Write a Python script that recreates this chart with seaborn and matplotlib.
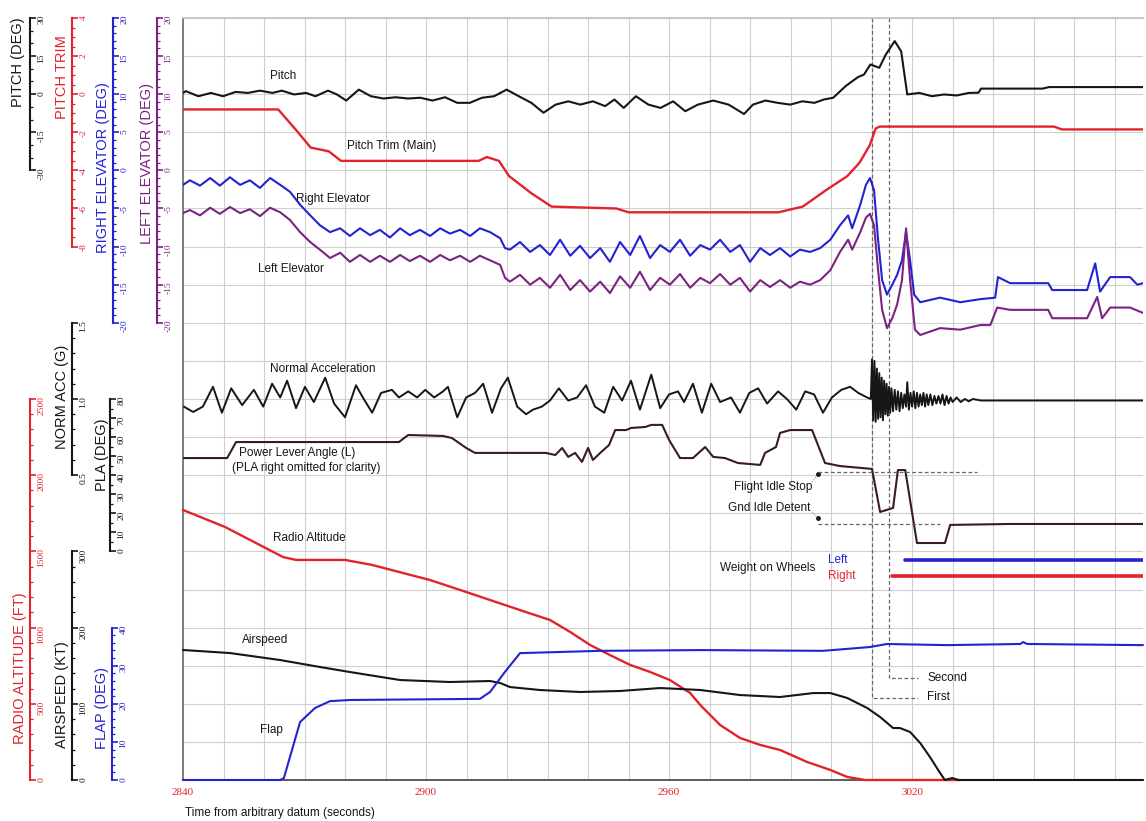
import numpy as np
import matplotlib
matplotlib.use("Agg")
import matplotlib.pyplot as plt
from matplotlib.ticker import FormatStrFormatter, MultipleLocator
import seaborn as sns

# ---- data (time in seconds from arbitrary datum) ----
pitch_t = [2840.0, 2840.7, 2843.8, 2846.9, 2849.9, 2853.0, 2856.0, 2859.0, 2862.1, 2864.4,
           2867.4, 2870.4, 2872.7, 2875.8, 2878.0, 2880.3, 2883.4, 2886.4, 2889.5, 2892.5,
           2895.6, 2898.6, 2901.6, 2904.7, 2907.7, 2910.8, 2913.8, 2916.8, 2919.9, 2922.9,
           2926.0, 2929.0, 2932.0, 2935.1, 2938.1, 2941.2, 2944.2, 2946.5, 2948.8, 2951.8,
           2954.9, 2957.9, 2961.0, 2964.0, 2967.1, 2970.9, 2974.7, 2978.5, 2980.7, 2983.8,
           2986.8, 2989.9, 2992.9, 2995.9, 2998.2, 3000.5, 3003.6, 3006.6, 3008.1, 3009.7,
           3011.9, 3013.5, 3015.7, 3017.3, 3018.8, 3021.8, 3024.9, 3027.9, 3031.0, 3034.0,
           3036.4, 3037.0, 3052.2, 3053.8, 3077.0]
pitch_deg = [0.5, 1.2, -0.8, 0.5, -0.8, 0.9, 0.5, 1.4, 0.5, 1.4,
             -0.1, 0.5, -0.8, 1.4, -0.1, -2.5, 1.8, -0.8, -1.7, -1.2,
             -1.7, -1.4, -2.5, -1.2, -3.4, -3.4, -1.4, -0.8, 1.8, -0.8,
             -3.4, -7.3, -4.1, -2.8, -4.1, -2.8, -4.7, -2.1, -5.4, -0.8,
             -4.1, -5.4, -2.8, -6.7, -4.1, -2.5, -4.1, -7.8, -4.1, -2.5,
             -3.4, -4.1, -2.8, -3.4, -2.1, -1.4, 3.2, 6.7, 7.7, 11.7,
             10.4, 15.6, 20.9, 16.9, -0.1, 0.5, -0.8, -0.1, -0.5, 0.5,
             0.6, 2.2, 2.2, 2.8, 2.8]

trim_t = [2840.0, 2863.5, 2868.0, 2871.5, 2876.0, 2879.0, 2913.0, 2915.0, 2918.0, 2920.5,
          2926.0, 2931.0, 2947.0, 2950.0, 2987.0, 2993.0, 2999.0, 3004.0, 3007.0, 3009.5,
          3011.0, 3012.0, 3055.0, 3057.0, 3077.0]
trim_deg = [-0.8, -0.8, -1.9, -2.8, -3.0, -3.5, -3.5, -3.3, -3.5, -4.3,
            -5.2, -5.9, -6.0, -6.2, -6.2, -5.9, -5.0, -4.3, -3.6, -2.7,
            -1.8, -1.7, -1.7, -1.85, -1.85]

elev_t = [2840.0, 2841.7, 2844.2, 2846.7, 2849.1, 2851.6, 2854.1, 2856.5, 2859.0, 2861.5,
          2864.0, 2866.4, 2868.9, 2871.4, 2873.8, 2876.3, 2878.8, 2881.2, 2883.7, 2886.2,
          2888.6, 2891.1, 2893.6, 2896.0, 2898.5, 2901.0, 2903.5, 2905.9, 2908.4, 2910.9,
          2913.3, 2915.8, 2918.3, 2919.5, 2920.7, 2923.2, 2925.7, 2928.1, 2930.6, 2933.1,
          2935.6, 2938.0, 2940.5, 2943.0, 2945.4, 2947.9, 2950.4, 2952.8, 2955.3, 2957.8,
          2960.2, 2962.7, 2965.2, 2967.7, 2970.1, 2972.6, 2975.1, 2977.5, 2980.0, 2982.5,
          2984.9, 2987.4, 2989.9, 2992.3, 2994.8, 2997.3, 2999.8, 3002.2, 3004.2, 3005.2,
          3007.2, 3008.6, 3009.6, 3010.6, 3011.6, 3012.6, 3013.8, 3015.1, 3016.3, 3017.5]
relev_t = elev_t + [3018.5, 3019.5, 3020.5, 3022.0, 3026.9, 3031.9, 3036.8, 3040.5, 3041.2, 3044.2,
                    3053.6, 3054.6, 3063.2, 3065.2, 3066.4, 3068.9, 3073.8, 3075.6, 3077.0]
relev_deg = [-1.9, -1.3, -2.0, -1.0, -2.0, -0.9, -1.9, -1.3, -2.3, -1.0,
             -1.9, -2.8, -4.5, -5.9, -7.2, -8.1, -7.6, -8.6, -7.6, -8.5,
             -7.8, -8.8, -7.6, -8.5, -7.8, -8.6, -7.6, -8.3, -7.8, -8.6,
             -7.6, -8.1, -8.9, -10.2, -10.4, -9.4, -10.7, -9.8, -11.1, -9.1,
             -11.2, -9.9, -11.5, -10.2, -12.0, -9.4, -11.1, -8.6, -11.5, -9.8,
             -10.7, -9.1, -11.2, -9.8, -10.4, -9.1, -10.7, -9.8, -12.0, -10.2,
             -11.1, -10.2, -11.3, -10.4, -10.7, -10.2, -9.1, -7.2, -5.9, -7.6,
             -4.5, -1.9, -1.0, -2.6, -9.1, -14.4, -16.3, -15.0, -13.7, -11.8,
             -8.1, -11.8, -16.3, -17.3, -16.7, -17.3, -16.9, -16.7, -14.0, -14.8,
             -14.8, -15.7, -15.7, -12.2, -15.9, -14.0, -14.0, -15.0, -14.8]
lelev_t = elev_t + [3018.5, 3019.5, 3020.7, 3022.0, 3026.9, 3031.9, 3036.8, 3039.3, 3041.0, 3044.2,
                    3053.6, 3054.6, 3063.2, 3065.7, 3066.9, 3068.9, 3073.8, 3077.0]
lelev_deg = [-5.6, -5.2, -5.9, -4.9, -5.7, -4.8, -5.6, -5.1, -6.0, -4.9,
             -5.5, -6.5, -8.1, -9.4, -10.4, -11.5, -10.8, -12.0, -11.1, -12.0,
             -11.2, -12.0, -11.1, -11.9, -11.2, -12.0, -11.1, -11.8, -11.2, -12.0,
             -11.2, -11.8, -12.4, -14.1, -14.6, -13.7, -15.0, -14.1, -15.4, -13.7,
             -15.7, -14.4, -15.9, -14.6, -16.1, -13.9, -15.4, -13.3, -15.7, -14.1,
             -15.0, -13.6, -15.4, -14.1, -14.8, -13.6, -15.0, -14.1, -15.9, -14.4,
             -15.3, -14.4, -15.4, -14.6, -15.0, -14.4, -13.1, -10.7, -9.1, -10.4,
             -8.1, -6.2, -5.7, -7.2, -13.1, -18.3, -20.7, -19.4, -17.6, -14.4,
             -7.6, -14.4, -20.9, -21.6, -20.7, -20.9, -20.3, -20.3, -18.0, -18.3,
             -18.3, -19.4, -19.4, -16.6, -19.4, -18.0, -18.0, -18.7]

nacc_t = [2840.2, 2842.5, 2844.9, 2847.4, 2849.6, 2851.9, 2854.6, 2857.5, 2859.8, 2862.0,
          2864.0, 2865.7, 2867.9, 2870.1, 2872.3, 2875.1, 2877.3, 2880.0, 2882.7, 2884.4,
          2886.7, 2888.9, 2891.6, 2893.3, 2895.6, 2897.8, 2899.8, 2902.0, 2904.2, 2905.4,
          2907.7, 2909.9, 2912.1, 2914.1, 2916.3, 2918.5, 2920.2, 2922.5, 2924.7, 2926.4,
          2928.6, 2930.6, 2932.8, 2935.1, 2937.3, 2939.5, 2941.7, 2944.0, 2946.2, 2948.4,
          2950.6, 2952.8, 2955.6, 2957.8, 2960.0, 2962.2, 2963.7, 2965.9, 2968.1, 2970.4,
          2972.6, 2975.3, 2977.5, 2979.8, 2982.0, 2984.2, 2986.9, 2989.1, 2991.4, 2993.6,
          2995.8, 2998.0, 3000.2, 3002.5, 3004.7, 3006.7, 3008.9, 3009.8, 3010.1, 3010.4,
          3010.7, 3011.0, 3011.3, 3011.6, 3011.9, 3012.2, 3012.5, 3012.8, 3013.1, 3013.4,
          3013.7, 3014.0, 3014.3, 3014.6, 3014.9, 3015.3, 3015.7, 3016.1, 3016.5, 3016.9,
          3017.3, 3017.7, 3018.1, 3018.5, 3018.8, 3019.2, 3019.6, 3020.0, 3020.4, 3020.8,
          3021.2, 3021.6, 3022.0, 3022.4, 3022.8, 3023.2, 3023.6, 3024.0, 3024.5, 3025.0,
          3025.5, 3026.0, 3026.5, 3027.0, 3027.5, 3028.0, 3028.5, 3029.0, 3029.5, 3030.0,
          3031.0, 3032.0, 3033.0, 3034.0, 3035.0, 3037.0, 3077.0]
nacc_g = [0.95, 0.915, 0.95, 1.08, 0.91, 1.07, 0.96, 1.06, 0.95, 1.10,
          1.01, 1.12, 0.94, 1.08, 0.98, 1.14, 0.97, 0.88, 1.09, 1.01,
          0.91, 1.04, 1.06, 1.01, 1.05, 1.01, 1.06, 1.01, 1.05, 1.08,
          0.88, 1.01, 1.04, 1.10, 0.91, 1.07, 1.14, 0.95, 0.90, 0.93,
          0.95, 0.99, 1.07, 0.99, 1.01, 1.09, 0.95, 0.91, 1.08, 0.99,
          1.12, 0.93, 1.16, 0.94, 1.03, 1.05, 0.98, 1.10, 0.91, 1.10,
          0.98, 1.01, 0.91, 1.04, 1.07, 0.97, 1.05, 1.00, 0.93, 1.05,
          1.03, 0.91, 1.01, 1.06, 1.08, 1.04, 1.01, 1.00, 1.26, 0.86,
          1.25, 0.85, 1.20, 0.87, 1.17, 0.88, 1.14, 0.86, 1.12, 0.90,
          1.10, 0.89, 1.08, 0.91, 1.07, 0.92, 1.06, 0.93, 1.05, 0.92,
          1.04, 0.94, 1.03, 0.95, 1.11, 0.93, 1.04, 0.95, 1.05, 0.94,
          1.04, 0.95, 1.03, 0.96, 1.04, 0.95, 1.03, 0.96, 1.03, 0.96,
          1.02, 0.97, 1.02, 0.97, 1.03, 0.96, 1.02, 0.97, 1.01, 0.98,
          1.01, 0.98, 1.00, 0.985, 1.00, 0.99, 0.99]

pla_t = [2840.0, 2850.9, 2853.1, 2893.3, 2895.6, 2904.2, 2906.4, 2909.9, 2912.1, 2929.6,
         2931.9, 2933.6, 2935.1, 2936.8, 2938.5, 2940.0, 2941.2, 2943.0, 2945.2, 2946.7,
         2949.4, 2950.6, 2954.1, 2955.6, 2958.3, 2960.0, 2962.7, 2965.9, 2968.9, 2970.9,
         2973.8, 2977.0, 2982.5, 2983.7, 2986.4, 2987.4, 2989.9, 2995.3, 2998.5, 3002.2,
         3010.1, 3012.1, 3015.3, 3016.5, 3018.3, 3021.2, 3028.1, 3029.4, 3044.2, 3077.0]
pla_deg = [49.0, 49.0, 57.4, 57.4, 61.1, 60.6, 59.5, 54.3, 51.7, 51.7,
           50.6, 54.3, 49.6, 51.7, 47.0, 54.3, 48.0, 51.7, 55.9, 63.7,
           63.7, 64.8, 65.3, 66.4, 66.4, 58.5, 49.0, 49.0, 54.8, 49.6,
           49.0, 46.4, 45.4, 51.7, 54.8, 62.2, 63.7, 63.7, 46.4, 44.8,
           43.3, 20.7, 22.8, 42.7, 42.7, 4.4, 4.4, 13.9, 14.4, 14.4]
flight_idle_stop = 41.7
gnd_idle_detent = 14.4

ralt_t = [2840.0, 2850.4, 2864.7, 2867.9, 2880.0, 2886.7, 2901.0, 2908.4, 2915.8, 2923.2,
          2930.6, 2935.6, 2940.5, 2945.4, 2950.4, 2955.3, 2960.2, 2965.2, 2967.7, 2972.6,
          2977.5, 2982.5, 2987.4, 2994.1, 2999.8, 3004.0, 3008.4, 3031.9]
ralt_ft = [1772, 1660, 1463, 1444, 1444, 1411, 1312, 1247, 1181, 1115,
           1050, 971, 886, 820, 755, 709, 656, 571, 492, 361,
           276, 230, 197, 118, 66, 20, 0, 0]

ias_t = [2840.0, 2851.6, 2864.0, 2873.8, 2881.2, 2893.6, 2905.9, 2915.8, 2918.3, 2920.7,
         2928.1, 2938.0, 2947.9, 2957.8, 2967.7, 2977.5, 2987.4, 2995.6, 2999.8, 3004.0,
         3008.9, 3012.1, 3015.3, 3017.0, 3019.5, 3022.0, 3024.4, 3026.9, 3028.1, 3029.9,
         3031.4, 3077.0]
ias_kt = [170.6, 166.6, 157.4, 148.3, 141.7, 131.2, 128.6, 129.9, 127.3, 122.0,
          118.1, 115.5, 116.8, 120.7, 118.1, 111.5, 108.9, 114.1, 114.1, 107.6,
          94.5, 82.7, 68.2, 68.2, 63.0, 48.5, 30.2, 9.2, 0.0, 2.6,
          0.0, 0.0]

flap_t = [2840.0, 2864.0, 2864.9, 2868.9, 2872.6, 2876.3, 2881.2, 2913.3, 2915.8, 2919.5,
          2923.2, 2943.0, 2967.7, 2998.0, 3009.6, 3013.8, 3028.6, 3046.7, 3047.4, 3048.4,
          3077.0]
flap_deg = [0.0, 0.0, 0.5, 15.2, 18.9, 20.7, 21.0, 21.3, 23.1, 28.4,
            33.3, 33.9, 34.1, 33.9, 34.9, 35.7, 35.4, 35.7, 36.2, 35.7,
            35.4]

touchdown_first = 3010.0
touchdown_second = 3014.2
wow_left_t = 3018.3
wow_right_t = 3015.1

x_ticks = [2840, 2900, 2960, 3020]

BLACK = "#161616"
RED = "#e2232b"
BLUE = "#2323d2"
PURPLE = "#7c2283"
GRID = "#cfcfcf"

sns.set_theme(style="white")
plt.rcParams['font.family'] = ['Liberation Sans', 'DejaVu Sans']

W, H = 1146, 821
L, R, T, B = 183, 1143, 18, 780
fig = plt.figure(figsize=(W / 100, H / 100), dpi=100)
ax = fig.add_axes([L / W, (H - B) / H, (R - L) / W, (B - T) / H])
ax.set_ylim(0, 20)
ax.set_yticks(np.arange(0, 21, 1))
ax.set_xticks(x_ticks)
ax.xaxis.set_minor_locator(MultipleLocator(10))
ax.grid(True, which="both", color=GRID, lw=0.8)
ax.tick_params(axis="x", which="both", length=0, pad=6, colors=RED, labelsize=8)
for lab in ax.get_xticklabels():
    lab.set_family("Liberation Serif")
ax.spines["right"].set_visible(False)
ax.spines["top"].set_color("#c4c4c4")
ax.spines["left"].set_color("#707070")
ax.spines["bottom"].set_color("#404040")
ax.spines["bottom"].set_linewidth(1.2)


def frac(px, py):
    return (px - L) / (R - L), (B - py) / (B - T)


def overlay(lo, hi, g_lo, g_hi):
    tw = ax.twinx()
    per = (hi - lo) / (g_hi - g_lo)
    tw.set_ylim(lo - g_lo * per, hi + (20 - g_hi) * per)
    tw.grid(False)
    for s in tw.spines.values():
        s.set_visible(False)
    tw.set_yticks([])
    return tw


def scale(tw, xpix, lo, hi, major, minor, color, fmt="%d"):
    sp = tw.spines["right"]
    sp.set_visible(True)
    sp.set_position(("axes", (xpix - L) / (R - L)))
    sp.set_bounds(lo, hi)
    sp.set_color(color)
    sp.set_linewidth(1.5)
    tw.yaxis.set_ticks_position("right")
    tw.set_yticks(np.arange(lo, hi + major / 2, major))
    tw.set_yticks(np.arange(lo, hi + minor / 2, minor), minor=True)
    tw.yaxis.set_major_formatter(FormatStrFormatter(fmt))
    tw.tick_params(axis="y", which="major", colors=color, length=4, width=1.2,
                   labelrotation=90, labelsize=6.8, pad=1.5)
    tw.tick_params(axis="y", which="minor", colors=color, length=2, width=0.9)
    for lab in tw.get_yticklabels():
        lab.set_family("Liberation Serif")


def trace(tw, t, v, color, lw=1.5, clip=True):
    sns.lineplot(x=t, y=v, ax=tw, color=color, linewidth=lw, legend=False,
                 estimator=None, sort=False, clip_on=clip)


def axis_title(px, py, text, color):
    fx, fy = frac(px, py)
    ax.text(fx, fy, text, transform=ax.transAxes, rotation=90, ha="center", va="center",
            color=color, fontsize=10.5, clip_on=False)


def note(px, py, text, color=BLACK, ha="left", size=8.5):
    fx, fy = frac(px, py)
    ax.text(fx, fy, text, transform=ax.transAxes, ha=ha, va="center", color=color,
            fontsize=size, clip_on=False)


# ---- traces on their own scales ----
ax_pitch = overlay(-30, 30, 16, 20)
trace(ax_pitch, pitch_t, pitch_deg, BLACK)
scale(ax_pitch, 30, -30, 30, 15, 5, BLACK)

ax_trim = overlay(-8, 4, 14, 20)
trace(ax_trim, trim_t, trim_deg, RED, lw=1.7)
scale(ax_trim, 72, -8, 4, 2, 0.5, RED)

ax_relev = overlay(-20, 20, 12, 20)
trace(ax_relev, relev_t, relev_deg, BLUE)
scale(ax_relev, 113, -20, 20, 5, 1, BLUE)

ax_lelev = overlay(-20, 20, 12, 20)
trace(ax_lelev, lelev_t, lelev_deg, PURPLE)
scale(ax_lelev, 157, -20, 20, 5, 1, PURPLE)

ax_nacc = overlay(0.5, 1.5, 8, 12)
trace(ax_nacc, nacc_t, nacc_g, BLACK, lw=1.4)
scale(ax_nacc, 72, 0.5, 1.5, 0.5, 0.1, BLACK, fmt="%.1f")

ax_pla = overlay(0, 80, 6, 10)
trace(ax_pla, pla_t, pla_deg, "#3a1a2a", lw=1.5)
scale(ax_pla, 110, 0, 80, 10, 5, BLACK)

ax_ralt = overlay(0, 2500, 0, 10)
trace(ax_ralt, ralt_t, ralt_ft, RED, lw=1.7, clip=False)
scale(ax_ralt, 30, 0, 2500, 500, 100, RED)

ax_ias = overlay(0, 300, 0, 6)
trace(ax_ias, ias_t, ias_kt, BLACK, lw=1.5, clip=False)
scale(ax_ias, 72, 0, 300, 100, 20, BLACK)

ax_flap = overlay(0, 40, 0, 4)
trace(ax_flap, flap_t, flap_deg, BLUE, lw=1.5, clip=False)
scale(ax_flap, 112, 0, 40, 10, 2, BLUE)

# twinx() puts ticks back on the base axes: remove them again
ax.tick_params(axis="y", which="both", left=False, right=False,
               labelleft=False, labelright=False)

# idle stop / detent references on the PLA scale
ax_pla.plot([2996.8, 3036.0], [flight_idle_stop] * 2, ls=(0, (3, 2)), color="#666666", lw=0.9)
ax_pla.plot([2996.8, 3026.9], [gnd_idle_detent] * 2, ls=(0, (3, 2)), color="#666666", lw=0.9)

# touchdown markers
xmax = 3077.0
g_first = (B - 698) / (B - T) * 20
g_second = (B - 678) / (B - T) * 20
ax.plot([touchdown_first, touchdown_first, 3021.5], [20, g_first, g_first],
        ls=(0, (3, 2)), color="#666666", lw=0.9)
ax.plot([touchdown_second, touchdown_second, 3021.5], [20, g_second, g_second],
        ls=(0, (3, 2)), color="#666666", lw=0.9)

# weight on wheels
ax.plot([wow_left_t, xmax], [(B - 560) / (B - T) * 20] * 2, color=BLUE, lw=2.6)
ax.plot([wow_right_t, xmax], [(B - 576) / (B - T) * 20] * 2, color=RED, lw=2.6)

ax.set_xlim(2840, xmax)

# ---- scale titles ----
axis_title(18, 62, "PITCH (DEG)", BLACK)
axis_title(62, 77, "PITCH TRIM", RED)
axis_title(103, 168, "RIGHT ELEVATOR (DEG)", BLUE)
axis_title(147, 163, "LEFT ELEVATOR (DEG)", PURPLE)
axis_title(62, 397, "NORM ACC (G)", BLACK)
axis_title(102, 455, "PLA (DEG)", BLACK)
axis_title(20, 668, "RADIO ALTITUDE (FT)", RED)
axis_title(62, 695, "AIRSPEED (KT)", BLACK)
axis_title(102, 708, "FLAP (DEG)", BLUE)

# ---- trace annotations ----
note(270, 76, "Pitch")
note(347, 146, "Pitch Trim (Main)")
note(296, 199, "Right Elevator")
note(258, 269, "Left Elevator")
note(270, 369, "Normal Acceleration")
note(239, 453, "Power Lever Angle (L)")
note(232, 468, "(PLA right omitted for clarity)")
note(812, 487, "Flight Idle Stop", ha="right")
note(810, 508, "Gnd Idle Detent", ha="right")
note(273, 538, "Radio Altitude")
note(815, 568, "Weight on Wheels", ha="right")
note(828, 560, "Left", color=BLUE)
note(828, 576, "Right", color=RED)
note(242, 640, "Airspeed")
note(260, 730, "Flap")
note(927, 678, "Second")
note(927, 697, "First")
note(185, 813, "Time from arbitrary datum (seconds)", size=8.5)

# leaders to the idle references
for (x0, y0), (x1, y1) in [((812, 482), (818, 474)), ((812, 512), (818, 518))]:
    a, b = frac(x0, y0)
    c, d = frac(x1, y1)
    ax.plot([a, c], [b, d], transform=ax.transAxes, color="#777777", lw=0.7, ls=":")
    ax.plot([c], [d], transform=ax.transAxes, marker="o", ms=2.5, color=BLACK)

fig.savefig("out.png", dpi=100)
